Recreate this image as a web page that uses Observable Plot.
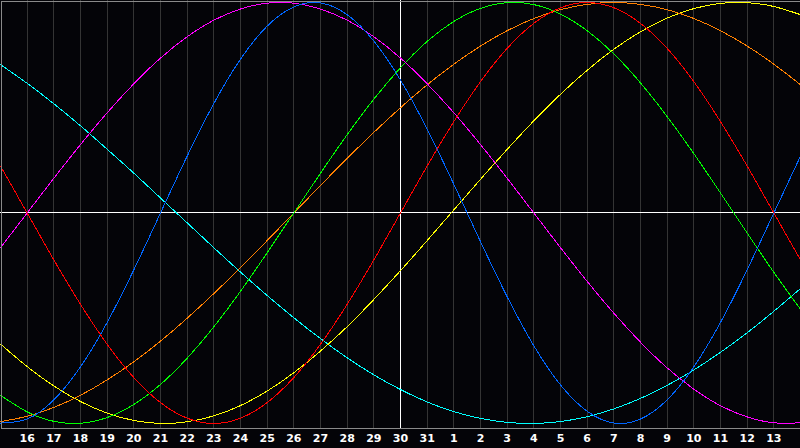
<!DOCTYPE html>
<html><head><meta charset="utf-8">
<script src="https://cdn.jsdelivr.net/npm/d3@7"></script>
<script src="https://cdn.jsdelivr.net/npm/@observablehq/plot@0.6"></script>
<style>html,body{margin:0;padding:0;background:#040408;overflow:hidden}svg{display:block}</style>
</head><body><div id="chart"></div>
<script>
// Day labels, July 15 .. August 14
const days = ["15","16","17","18","19","20","21","22","23","24","25","26","27","28","29","30","31",
              "1","2","3","4","5","6","7","8","9","10","11","12","13","14"];
const todayIndex = 15; // the 30th

// Cycle values (-1..1) read per day
const physical = [-0.998,-0.979,-0.888,-0.731,-0.520,-0.270,0,0.270,0.520,0.731,0.888,0.979,0.998,0.942,0.817,0.631,0.398,0.136,-0.136,-0.398,-0.631,-0.817,-0.942,-0.998,-0.979,-0.888,-0.731,-0.520,-0.270,0,0.270];
const emotional = [0.223,0,-0.223,-0.434,-0.624,-0.782,-0.901,-0.975,-1,-0.975,-0.901,-0.782,-0.624,-0.434,-0.223,0,0.223,0.434,0.624,0.782,0.901,0.975,1,0.975,0.901,0.782,0.624,0.434,0.223,0,-0.223];
const intellectual = [-0.866,-0.945,-0.990,-0.999,-0.972,-0.910,-0.815,-0.690,-0.541,-0.372,-0.189,0,0.189,0.372,0.541,0.690,0.815,0.910,0.972,0.999,0.990,0.945,0.866,0.756,0.618,0.458,0.282,0.095,-0.095,-0.282,-0.458];
const intuitive = [-0.165,0,0.165,0.325,0.476,0.614,0.736,0.837,0.916,0.969,0.997,0.997,0.969,0.916,0.837,0.736,0.614,0.476,0.325,0.165,0,-0.165,-0.325,-0.476,-0.614,-0.736,-0.837,-0.916,-0.969,-0.997,-0.997];
const awareness = [-0.991,-0.966,-0.924,-0.866,-0.793,-0.707,-0.609,-0.500,-0.383,-0.259,-0.131,0,0.131,0.259,0.383,0.500,0.609,0.707,0.793,0.866,0.924,0.966,0.991,1,0.991,0.966,0.924,0.866,0.793,0.707,0.609];
const aesthetic = [-0.623,-0.730,-0.822,-0.896,-0.951,-0.986,-1.000,-0.992,-0.964,-0.915,-0.846,-0.759,-0.656,-0.540,-0.411,-0.274,-0.131,0.015,0.160,0.302,0.438,0.564,0.678,0.778,0.861,0.926,0.971,0.996,0.999,0.981,0.942];
const spiritual = [0.705,0.616,0.519,0.414,0.303,0.189,0.071,-0.047,-0.165,-0.281,-0.392,-0.498,-0.597,-0.688,-0.769,-0.839,-0.898,-0.944,-0.976,-0.995,-1.000,-0.991,-0.968,-0.931,-0.881,-0.819,-0.746,-0.662,-0.569,-0.467,-0.359];

const seriesNames = ["Spiritual","Aesthetic","Awareness","Intellectual","Intuitive","Physical","Emotional"];
const seriesValues = [spiritual, aesthetic, awareness, intellectual, intuitive, physical, emotional];
const seriesColors = ["#00ffff","#ffff00","#ff8000","#00ff00","#ff00ff","#0066ff","#ff0000"];

const rows = seriesNames.flatMap((n, s) => seriesValues[s].map((v, i) => ({i, v, name: n})));
const idx = days.map((d, i) => i);
const gridIdx = idx.filter(i => i > 0 && i < days.length - 1 && i !== todayIndex);
const tickIdx = idx.filter(i => i > 0 && i < days.length - 1);

const chart = Plot.plot({
  width: 800, height: 448,
  marginLeft: 0, marginRight: 0, marginTop: 0, marginBottom: 20,
  style: {background: "#040408", color: "#ffffff", fontFamily: "DejaVu Sans", fontSize: "11px", fontWeight: "bold"},
  x: {domain: [0, days.length - 1], axis: null, label: null},
  y: {domain: [-1.024, 1.0095], axis: null, label: null},
  color: {domain: seriesNames, range: seriesColors},
  marks: [
    Plot.ruleX(gridIdx, {stroke: "#343434", shapeRendering: "crispEdges"}),
    Plot.ruleX([todayIndex], {stroke: "#ffffff", shapeRendering: "crispEdges"}),
    Plot.ruleY([0], {stroke: "#ffffff", shapeRendering: "crispEdges"}),
    Plot.line(rows, {x: "i", y: "v", z: "name", stroke: "name", curve: "natural", strokeWidth: 1, shapeRendering: "crispEdges"}),
    Plot.frame({stroke: "#8a8a8a", inset: 0.5, shapeRendering: "crispEdges"}),
    Plot.axisX(tickIdx, {tickFormat: i => days[i], tickSize: 0, tickPadding: 6, label: null, fill: "#ffffff", fontWeight: "bold", fontSize: 11})
  ]
});
document.getElementById("chart").appendChild(chart);
</script>
</body></html>
